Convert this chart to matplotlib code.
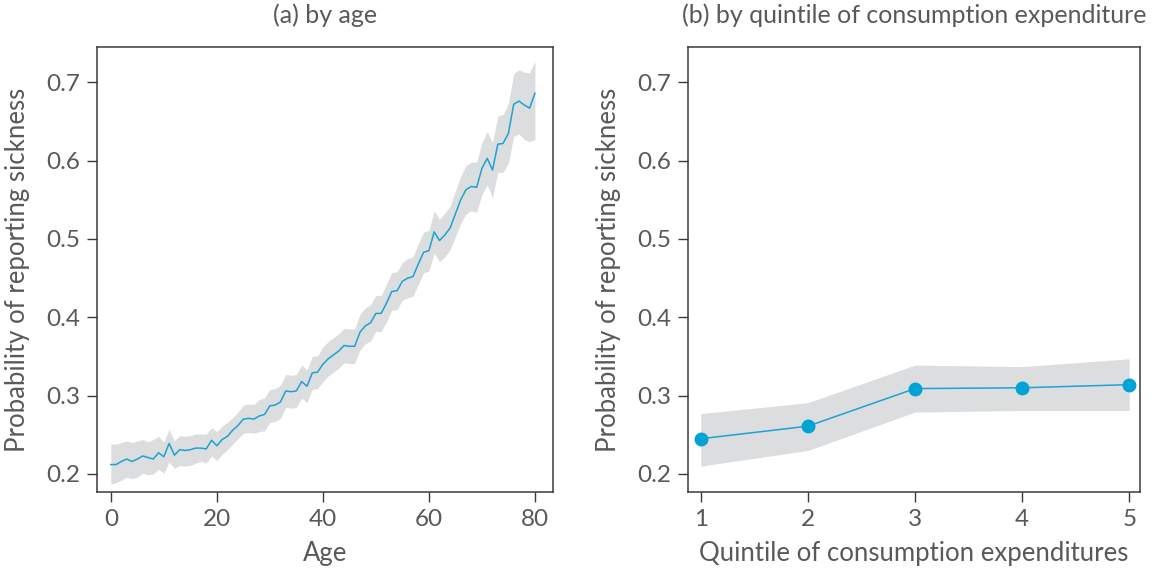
import matplotlib
matplotlib.use("Agg")
import matplotlib.pyplot as plt
import numpy as np

# panel (a): probability of reporting sickness by age
ages = list(range(0, 81))
age_prob = [0.212, 0.212, 0.216, 0.219, 0.216, 0.219, 0.223, 0.221, 0.219, 0.227,
            0.222, 0.239, 0.224, 0.231, 0.230, 0.231, 0.233, 0.233, 0.232, 0.243,
            0.236, 0.244, 0.248, 0.256, 0.262, 0.270, 0.271, 0.270, 0.274, 0.276,
            0.287, 0.288, 0.292, 0.306, 0.305, 0.306, 0.318, 0.312, 0.329, 0.330,
            0.340, 0.347, 0.352, 0.357, 0.364, 0.363, 0.363, 0.381, 0.389, 0.393,
            0.405, 0.405, 0.418, 0.433, 0.434, 0.446, 0.450, 0.452, 0.468, 0.483,
            0.485, 0.509, 0.498, 0.505, 0.514, 0.532, 0.550, 0.563, 0.567, 0.566,
            0.590, 0.603, 0.588, 0.621, 0.622, 0.635, 0.672, 0.676, 0.671, 0.667,
            0.686]
age_upper = [0.238, 0.238, 0.240, 0.242, 0.240, 0.242, 0.244, 0.241, 0.244, 0.248,
             0.241, 0.257, 0.242, 0.249, 0.248, 0.249, 0.251, 0.251, 0.251, 0.259,
             0.254, 0.261, 0.266, 0.272, 0.279, 0.288, 0.289, 0.289, 0.295, 0.297,
             0.308, 0.309, 0.313, 0.327, 0.326, 0.327, 0.339, 0.333, 0.350, 0.351,
             0.362, 0.369, 0.374, 0.379, 0.386, 0.385, 0.385, 0.404, 0.412, 0.416,
             0.428, 0.428, 0.442, 0.457, 0.458, 0.470, 0.475, 0.477, 0.494, 0.509,
             0.511, 0.536, 0.525, 0.533, 0.542, 0.561, 0.580, 0.594, 0.598, 0.598,
             0.623, 0.637, 0.623, 0.657, 0.659, 0.673, 0.711, 0.716, 0.713, 0.712,
             0.727]
age_lower = [0.187, 0.189, 0.192, 0.196, 0.194, 0.196, 0.201, 0.199, 0.200, 0.206,
             0.201, 0.215, 0.207, 0.211, 0.210, 0.211, 0.214, 0.216, 0.214, 0.223,
             0.217, 0.225, 0.231, 0.238, 0.245, 0.252, 0.253, 0.252, 0.254, 0.255,
             0.266, 0.267, 0.271, 0.285, 0.284, 0.285, 0.297, 0.291, 0.308, 0.309,
             0.318, 0.325, 0.330, 0.335, 0.342, 0.341, 0.341, 0.358, 0.366, 0.370,
             0.382, 0.382, 0.394, 0.409, 0.410, 0.422, 0.425, 0.427, 0.442, 0.457,
             0.459, 0.482, 0.471, 0.477, 0.486, 0.503, 0.520, 0.532, 0.536, 0.534,
             0.557, 0.569, 0.553, 0.585, 0.585, 0.597, 0.631, 0.634, 0.627, 0.624,
             0.627]

# panel (b): by quintile of consumption expenditure
quintiles = [1, 2, 3, 4, 5]
q_prob = [0.245, 0.261, 0.309, 0.310, 0.314]
q_upper = [0.277, 0.291, 0.339, 0.337, 0.347]
q_lower = [0.210, 0.230, 0.279, 0.281, 0.281]

TEXT = "#58595b"
LINE = "#1ba3d3"
BAND = "#dcddde"
SPINE = "#3a3a3a"

plt.rcParams["font.family"] = ["Lato", "DejaVu Sans"]

fig = plt.figure(figsize=(11.58, 5.74), dpi=100)
ax1 = fig.add_axes([0.0838, 0.1429, 0.3937, 0.7751])
ax2 = fig.add_axes([0.5941, 0.1429, 0.3903, 0.7751])

def style(ax, xlabel, title):
    for s in ax.spines.values():
        s.set_color(SPINE)
        s.set_linewidth(1.1)
    ax.tick_params(direction="out", length=7, width=1, color=SPINE,
                   labelcolor=TEXT, labelsize=17.5, pad=5)
    ax.set_ylim(0.177, 0.745)
    ax.set_yticks([0.2, 0.3, 0.4, 0.5, 0.6, 0.7])
    ax.set_yticklabels(["0.2", "0.3", "0.4", "0.5", "0.6", "0.7"])
    ax.set_ylabel("Probability of reporting sickness", color=TEXT, fontsize=18.5, labelpad=12)
    ax.set_xlabel(xlabel, color=TEXT, fontsize=18.5, labelpad=8)
    ax.set_title(title, color=TEXT, fontsize=18, pad=17)

ax1.fill_between(ages, age_lower, age_upper, color=BAND, linewidth=0)
ax1.plot(ages, age_prob, color=LINE, linewidth=1.1)
ax1.set_xlim(-2.6, 83.4)
ax1.set_xticks([0, 20, 40, 60, 80])
style(ax1, "Age", "(a) by age")

ax2.fill_between(quintiles, q_lower, q_upper, color=BAND, linewidth=0)
ax2.plot(quintiles, q_prob, color=LINE, linewidth=1.1, marker="o",
         markersize=9, markerfacecolor="#00a3d6", markeredgecolor="#00a3d6")
ax2.set_xlim(0.88, 5.1)
ax2.set_xticks(quintiles)
style(ax2, "Quintile of consumption expenditures",
      "(b) by quintile of consumption expenditure")

fig.savefig("out.png", dpi=100)
